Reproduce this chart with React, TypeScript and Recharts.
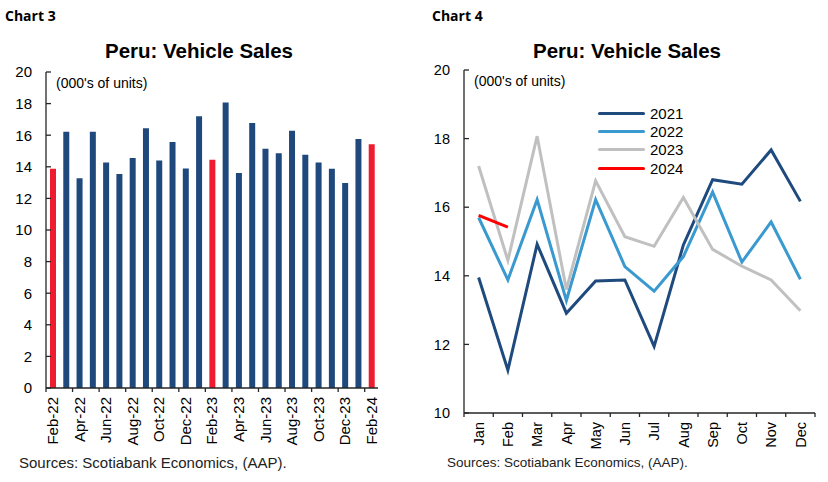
import React from 'react';
import { BarChart, Bar, Cell, ComposedChart, Line, XAxis, YAxis, Legend } from 'recharts';

// monthly vehicle sales, 000's of units
const months = ['Jan', 'Feb', 'Mar', 'Apr', 'May', 'Jun', 'Jul', 'Aug', 'Sep', 'Oct', 'Nov', 'Dec'];
const sales2021 = [13.95, 11.25, 14.92, 12.91, 13.85, 13.88, 11.94, 14.9, 16.8, 16.67, 17.67, 16.17];
const sales2022 = [15.7, 13.88, 16.22, 13.28, 16.22, 14.27, 13.55, 14.56, 16.44, 14.4, 15.57, 13.9];
const sales2023 = [17.2, 14.45, 18.07, 13.6, 16.77, 15.14, 14.86, 16.28, 14.77, 14.28, 13.88, 12.98];
const sales2024 = [15.76, 15.42];

const barLabels = [
  'Feb-22', 'Mar-22', 'Apr-22', 'May-22', 'Jun-22', 'Jul-22', 'Aug-22', 'Sep-22', 'Oct-22', 'Nov-22', 'Dec-22',
  'Jan-23', 'Feb-23', 'Mar-23', 'Apr-23', 'May-23', 'Jun-23', 'Jul-23', 'Aug-23', 'Sep-23', 'Oct-23', 'Nov-23', 'Dec-23',
  'Jan-24', 'Feb-24',
];
const barValues = [
  13.88, 16.22, 13.28, 16.22, 14.27, 13.55, 14.56, 16.44, 14.4, 15.57, 13.9,
  17.2, 14.45, 18.07, 13.6, 16.77, 15.14, 14.86, 16.28, 14.77, 14.28, 13.88, 12.98,
  15.76, 15.42,
];

const leftTicks = [0, 2, 4, 6, 8, 10, 12, 14, 16, 18, 20];
const rightTicks = [10, 12, 14, 16, 18, 20];

const NAVY = '#1f497d';
const RED = '#ee1c2e';
const AXIS = '#262626';
const FONT = '"Liberation Sans", Arial, sans-serif';

const barData = barLabels.map((label, i) => ({ label, value: barValues[i] }));
const lineData = months.map((month, i) => ({
  month,
  y2021: sales2021[i],
  y2022: sales2022[i],
  y2023: sales2023[i],
  y2024: sales2024[i],
}));

const LEFT_STEP = (414 - 46 - 36) / barLabels.length;
const RIGHT_STEP = (414 - 50 - 13) / months.length;

const YTick = ({ x, y, payload, fontSize }: any) => (
  <g>
    <line x1={x} x2={x + 5} y1={y} y2={y} stroke={AXIS} strokeWidth={1.3} />
    <text x={x - 14} y={y} dy="0.36em" textAnchor="end" fill="#000" fontFamily={FONT} fontSize={fontSize}>
      {payload.value}
    </text>
  </g>
);

const BarTick = ({ x, y, payload, index }: any) => {
  if (index % 2 !== 0) return null;
  const bx = x - LEFT_STEP / 2;
  return (
    <g>
      <line x1={bx} x2={bx} y1={y} y2={y + 4} stroke={AXIS} strokeWidth={1.3} />
      <text
        x={x}
        y={y + 9}
        dy="0.36em"
        textAnchor="end"
        transform={`rotate(-90 ${x} ${y + 9})`}
        fill="#000"
        fontFamily={FONT}
        fontSize={15}
      >
        {payload.value}
      </text>
    </g>
  );
};

const MonthTick = ({ x, y, payload, index }: any) => {
  const bx = x - RIGHT_STEP / 2;
  return (
    <g>
      <line x1={bx} x2={bx} y1={y} y2={y + 4} stroke={AXIS} strokeWidth={1.3} />
      {index === months.length - 1 && (
        <line x1={x + RIGHT_STEP / 2} x2={x + RIGHT_STEP / 2} y1={y} y2={y + 4} stroke={AXIS} strokeWidth={1.3} />
      )}
      <text
        x={x}
        y={y + 9}
        dy="0.36em"
        textAnchor="end"
        transform={`rotate(-90 ${x} ${y + 9})`}
        fill="#000"
        fontFamily={FONT}
        fontSize={14.5}
      >
        {payload.value}
      </text>
    </g>
  );
};

const renderLegend = (props: any) => (
  <div style={{ fontFamily: FONT, fontSize: 15, color: '#000' }}>
    {(props.payload || []).map((entry: any) => (
      <div key={entry.value} style={{ display: 'flex', alignItems: 'center', height: 18.3 }}>
        <div style={{ width: 47, height: 3, background: entry.color, marginRight: 5, borderRadius: 1.5 }} />
        <span>{entry.value}</span>
      </div>
    ))}
  </div>
);

export default function App() {
  return (
    <div style={{ position: 'relative', width: 828, height: 482, background: '#fff' }}>
      <style>{'body{margin:0}'}</style>

      {/* Chart 3: monthly bars */}
      <div style={{ position: 'absolute', left: 0, top: 0 }}>
        <BarChart width={414} height={482} data={barData} margin={{ top: 72, right: 36, bottom: 34, left: 0 }}>
          <XAxis
            dataKey="label"
            height={60}
            interval={0}
            tickSize={0}
            tickMargin={0}
            tick={<BarTick />}
            axisLine={{ stroke: AXIS, strokeWidth: 1.3 }}
          />
          <YAxis
            width={46}
            domain={[0, 20]}
            ticks={leftTicks}
            interval={0}
            tickSize={0}
            tickMargin={0}
            tick={<YTick fontSize={15} />}
            axisLine={{ stroke: AXIS, strokeWidth: 1.3 }}
          />
          <Bar dataKey="value" barSize={6} isAnimationActive={false}>
            {barData.map((d) => (
              <Cell key={d.label} fill={d.label.startsWith('Feb') ? RED : NAVY} />
            ))}
          </Bar>
        </BarChart>
      </div>

      {/* Chart 4: by year */}
      <div style={{ position: 'absolute', left: 414, top: 0 }}>
        <ComposedChart width={414} height={482} data={lineData} margin={{ top: 70, right: 13, bottom: 29, left: 0 }}>
          <XAxis
            dataKey="month"
            scale="band"
            height={40}
            interval={0}
            tickSize={0}
            tickMargin={0}
            tick={<MonthTick />}
            axisLine={{ stroke: AXIS, strokeWidth: 1.3 }}
          />
          <YAxis
            width={50}
            domain={[10, 20]}
            ticks={rightTicks}
            interval={0}
            tickSize={0}
            tickMargin={0}
            tick={<YTick fontSize={14.5} />}
            axisLine={{ stroke: AXIS, strokeWidth: 1.3 }}
          />
          <Legend
            layout="vertical"
            align="center"
            verticalAlign="middle"
            wrapperStyle={{ left: 184, top: 104, width: 110 }}
            content={renderLegend}
          />
          <Line dataKey="y2021" name="2021" stroke="#1f4a7e" strokeWidth={3} dot={false} isAnimationActive={false} />
          <Line dataKey="y2022" name="2022" stroke="#3a99cf" strokeWidth={3} dot={false} isAnimationActive={false} />
          <Line dataKey="y2023" name="2023" stroke="#c0c0c0" strokeWidth={3} dot={false} isAnimationActive={false} />
          <Line dataKey="y2024" name="2024" stroke="#ff0000" strokeWidth={3} dot={false} isAnimationActive={false} />
        </ComposedChart>
      </div>

      <svg width={828} height={482} style={{ position: 'absolute', left: 0, top: 0, pointerEvents: 'none' }}>
        <g fontFamily='"Open Sans", sans-serif' fontWeight="bold" fontSize={14} fill="#000">
          <text x={5} y={21}>Chart 3</text>
          <text x={432} y={21}>Chart 4</text>
        </g>
        <g fontFamily={FONT} fontWeight="bold" fontSize={20.5} fill="#000" textAnchor="middle">
          <text x={199} y={58}>Peru: Vehicle Sales</text>
          <text x={627} y={58}>Peru: Vehicle Sales</text>
        </g>
        <g fontFamily={FONT} fontSize={14} fill="#000">
          <text x={56} y={88}>(000's of units)</text>
          <text x={474} y={86}>(000's of units)</text>
        </g>
        <g fontFamily={FONT} fill="#222">
          <text x={19} y={468} fontSize={15}>Sources: Scotiabank Economics, (AAP).</text>
          <text x={447} y={467} fontSize={13.5}>Sources: Scotiabank Economics, (AAP).</text>
        </g>
      </svg>
    </div>
  );
}
